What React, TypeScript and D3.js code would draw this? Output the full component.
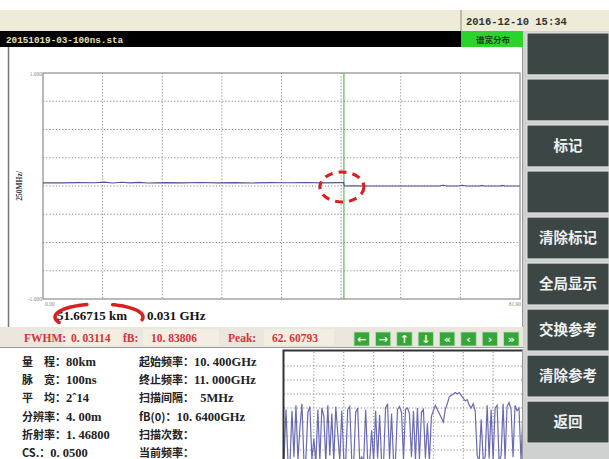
import React from "react";
import * as d3 from "d3";

// main trace: distance (km) and normalised amplitude
const traceKm = [0, 3, 6, 9, 10.5, 12, 13.5, 15, 16.5, 18, 21, 24, 27, 30, 33, 36, 39, 42, 45, 48, 51, 51.6, 51.75, 53, 56, 60, 64, 68, 68.7, 69.4, 71.3, 72, 72.7, 75, 75.4, 75.8, 78.5, 78.9, 79.3, 81.9];
const traceAmp = [0.028, 0.028, 0.03, 0.029, 0.034, 0.027, 0.033, 0.028, 0.032, 0.027, 0.03, 0.028, 0.031, 0.028, 0.03, 0.027, 0.03, 0.029, 0.031, 0.028, 0.03, 0.03, 0.0, 0.002, 0, 0, 0, 0, 0.006, 0, 0, 0.006, 0, 0, 0.005, 0, 0, 0.005, 0, 0];
const markerKm = 51.66715;
const markerGHz = 0.031;
const yTickLabels = ["1.000", "-1.000"];
const xTickLabels = ["0.00", "81.90"];

// sweep spectrum (small chart), 10.400 -> 11.000 GHz, 5 MHz step
const sweepStart = 10.4;
const sweepStop = 11.0;
const sweepStep = 0.005;
const spectrum = [
  0.3, 3.9, 0.2, 0.1, 3.8, 0.5, 4.2, 0.3, 2.6, 4.3, 0.2, 0.4, 3.7, 4.1, 0.3, 1.8, 0.1, 3.9, 0.2, 4.0,
  3.4, 0.1, 4.2, 0.6, 3.6, 0.2, 4.1, 2.2, 0.2, 3.8, 0.4, 0.2, 3.9, 4.1, 0.3, 0.1, 3.7, 4.0, 0.2, 0.5,
  0.2, 3.9, 0.3, 0.1, 2.4, 0.2, 3.8, 0.4, 3.5, 0.2, 0.1, 4.0, 4.3, 0.3, 3.6, 0.2, 0.4, 3.9, 4.1, 3.7,
  0.3, 3.9, 4.0, 3.6, 0.5, 3.8, 0.2, 4.0, 0.3, 3.7, 3.9, 0.4, 2.9, 0.2, 3.4, 3.8, 4.2, 3.9, 3.6, 3.3,
  3.0, 3.9, 4.3, 4.8, 4.9, 5.0, 5.1, 5.0, 5.1, 4.9, 4.7, 4.5, 4.6, 4.2, 4.0, 4.3, 3.8, 0.6, 0.2, 3.2,
  0.3, 0.5, 4.2, 0.4, 3.9, 0.3, 4.0, 4.2, 0.2, 0.6, 4.3, 0.3, 4.1, 4.4, 3.9, 0.5, 4.2, 3.8, 4.0, 0.2, 3.9,
];

const fileName = "20151019-03-100ns.sta";
const dateText = "2016-12-10  15:34";
const modeText = "谱宽分布";
const buttonLabels = ["", "", "标记", "", "清除标记", "全局显示", "交换参考", "清除参考", "返回"];
const arrowLabels = ["←", "→", "↑", "↓", "«", "‹", "›", "»"];

const statLabels = ["FWHM:", "fB:", "Peak:"];
const statValues = ["0. 03114", "10. 83806", "62. 60793"];

const leftLabels = ["量　程：", "脉　宽：", "平　均：", "分辨率：", "折射率：", "CS.："];
const leftValues = ["80km", "100ns", "2ˆ14", "4. 00m", "1. 46800", "0. 0500"];
const rightLabels = ["起始频率：", "终止频率：", "扫描间隔：", "fB(0)：", "扫描次数：", "当前频率："];
const rightValues = ["10. 400GHz", "11. 000GHz", "  5MHz", "10. 6400GHz", "", ""];

const SERIF = "'Liberation Serif', 'Noto Sans CJK SC', serif";
const CJK = "'Noto Sans CJK SC', sans-serif";
const MONO = "'Liberation Mono', monospace";

const ellArc = (cx: number, cy: number, rx: number, ry: number, a0: number, a1: number) =>
  d3.line()(
    d3.range(a0, a1 + 0.1, 3).map((a) => [
      cx + rx * Math.cos((a * Math.PI) / 180),
      cy + ry * Math.sin((a * Math.PI) / 180),
    ] as [number, number])
  ) as string;

export default function App() {
  const W = 609;
  const H = 459;

  const xMain = d3.scaleLinear().domain([0, 81.9]).range([43, 520]);
  const yMain = d3.scaleLinear().domain([-1, 1]).range([299, 73]);
  const mainLine = d3
    .line<number>()
    .x((_, i) => xMain(traceKm[i]))
    .y((d) => yMain(d));
  const [d0, d1] = xMain.domain();
  const gridX = d3.range(1, 8).map((i) => d0 + (i * (d1 - d0)) / 8);
  const gridY = d3.range(1, 8).map((i) => -1 + i * 0.25);

  const xSpec = d3.scaleLinear().domain([sweepStart, sweepStop]).range([284, 523]);
  const ySpec = d3.scaleLinear().domain([0, 8]).range([464, 352]);
  const specLine = d3
    .line<number>()
    .x((_, i) => xSpec(sweepStart + i * sweepStep))
    .y((d) => ySpec(d));
  const specGridX = d3.range(1, 8).map((i) => sweepStart + (i * (sweepStop - sweepStart)) / 8);
  const specGridY = d3.range(1, 8);

  const btnY = d3.scaleBand<number>().domain(d3.range(buttonLabels.length)).range([33, 443]).paddingInner(0.09);
  const arrowX = d3.scaleBand<number>().domain(d3.range(arrowLabels.length)).range([354, 519]).paddingInner(0.28);

  const mx = xMain(markerKm);
  const statX = [24, 123, 228];
  const boxX = [63, 143, 264];
  const boxW = [58, 76, 70];
  const rowY = d3.range(6).map((i) => 366 + i * 18.2);

  return (
    <div style={{ position: "absolute", left: 0, top: 0 }}>
      <svg width={W} height={H} style={{ display: "block", background: "#fff" }}>
        {/* header */}
        <rect x={0} y={10} width={W} height={21} fill="#efebd9" />
        <line x1={461} x2={461} y1={10} y2={31} stroke="#8a8a80" />
        <text x={466} y={25} fontFamily={MONO} fontWeight="bold" fontSize={10.5} fill="#333">
          {dateText}
        </text>
        <rect x={0} y={31} width={461} height={16} fill="#000" />
        <text x={6} y={43} fontFamily={MONO} fontWeight="bold" fontSize={9.3} fill="#ece3b4">
          {fileName}
        </text>
        <rect x={461} y={31} width={64} height={16} fill="#2bd42b" />
        <text x={493} y={42.5} textAnchor="middle" fontFamily={CJK} fontWeight="bold" fontSize={8.5} fill="#1d3d1d">
          {modeText}
        </text>

        {/* right button column */}
        <rect x={523} y={31} width={W - 523} height={H - 31} fill="#cfd1d0" />
        {buttonLabels.map((b, i) => (
          <g key={i}>
            <rect x={527} y={btnY(i)} width={82} height={btnY.bandwidth()} fill="#3c4645" stroke="#e4e6e5" strokeWidth={1} />
            {b && (
              <text
                x={568}
                y={(btnY(i) as number) + btnY.bandwidth() / 2 + 5}
                textAnchor="middle"
                fontFamily={CJK}
                fontWeight="bold"
                fontSize={14.5}
                fill="#eef0ef"
              >
                {b}
              </text>
            )}
          </g>
        ))}

        {/* main panel */}
        <rect x={0} y={47} width={523} height={280} fill="#fff" />
        <line x1={8.5} x2={8.5} y1={47} y2={327} stroke="#777" strokeWidth={1.5} />
        <line x1={522.5} x2={522.5} y1={47} y2={327} stroke="#999" />
        {gridX.map((g) => (
          <line key={"gx" + g} x1={xMain(g)} x2={xMain(g)} y1={73} y2={299} stroke="#8a8a8a" strokeDasharray="1.2 2" />
        ))}
        {gridY.map((g) => (
          <line key={"gy" + g} x1={43} x2={520} y1={yMain(g)} y2={yMain(g)} stroke="#8a8a8a" strokeDasharray="1.2 2" />
        ))}
        <rect x={43} y={73} width={477} height={226} fill="none" stroke="#8c8c8c" strokeWidth={1.2} />
        <text x={42} y={76} textAnchor="end" fontFamily={SERIF} fontSize={5.5} fill="#888">
          {yTickLabels[0]}
        </text>
        <text x={42} y={301} textAnchor="end" fontFamily={SERIF} fontSize={5.5} fill="#888">
          {yTickLabels[1]}
        </text>
        <text x={45} y={306} fontFamily={SERIF} fontSize={5.5} fill="#888">
          {xTickLabels[0]}
        </text>
        <text x={521} y={306} textAnchor="end" fontFamily={SERIF} fontSize={5.5} fill="#888">
          {xTickLabels[1]}
        </text>
        <text
          transform="translate(22,186) rotate(-90)"
          textAnchor="middle"
          fontFamily={SERIF}
          fontWeight="bold"
          fontSize={7.5}
          fill="#333"
        >
          250MHz/
        </text>
        <line x1={mx} x2={mx} y1={73} y2={299} stroke="#5cb85c" strokeWidth={1.2} />
        <path d={mainLine(traceAmp) as string} fill="none" stroke="#54548f" strokeWidth={1.1} />
        <ellipse cx={mx - 2} cy={yMain(0) + 1} rx={22} ry={15} fill="none" stroke="#d8201e" strokeWidth={3.2} strokeDasharray="8 6" />

        <text x={57} y={320} fontFamily={SERIF} fontWeight="bold" fontSize={13} fill="#111">
          {markerKm.toFixed(5)} km
        </text>
        <text x={147} y={320} fontFamily={SERIF} fontWeight="bold" fontSize={13} fill="#111">
          {markerGHz.toFixed(3)} GHz
        </text>
        <g fill="none" stroke="#d8201e" strokeWidth={3.5} strokeLinecap="round">
          <path d={ellArc(99, 317, 44, 13, 155, 255)} />
          <path d={ellArc(99, 317, 44, 13, 288, 372)} />
          <path d={ellArc(99, 317, 44, 13, 72, 108)} />
        </g>

        {/* stats bar */}
        <rect x={0} y={327} width={523} height={20} fill="#ebe7df" />
        <line x1={0} x2={523} y1={347.5} y2={347.5} stroke="#9a9a9a" />
        {statLabels.map((s, i) => (
          <g key={s}>
            <rect x={boxX[i]} y={329} width={boxW[i]} height={16} fill="#f3eee1" />
            <text x={statX[i]} y={342} fontFamily={SERIF} fontWeight="bold" fontSize={11.5} fill="#d6323a">
              {s}
            </text>
            <text x={boxX[i] + 8} y={342} fontFamily={SERIF} fontWeight="bold" fontSize={11.5} fill="#d6323a">
              {statValues[i]}
            </text>
          </g>
        ))}
        {arrowLabels.map((a, i) => (
          <g key={"a" + i}>
            <rect x={arrowX(i)} y={332} width={arrowX.bandwidth()} height={14} fill="#37a63a" stroke="#bfe0bf" strokeWidth={0.8} />
            <text
              x={(arrowX(i) as number) + arrowX.bandwidth() / 2}
              y={343}
              textAnchor="middle"
              fontFamily="'DejaVu Sans', sans-serif"
              fontWeight="bold"
              fontSize={11}
              fill="#f4fff4"
            >
              {a}
            </text>
          </g>
        ))}

        {/* info panel */}
        {leftLabels.map((l, i) => (
          <text key={"l" + i} x={22} y={rowY[i]} fontFamily={CJK} fontWeight="bold" fontSize={11} fill="#222">
            {l}
            <tspan fontFamily={SERIF} fontSize={12.5}>
              {leftValues[i]}
            </tspan>
          </text>
        ))}
        {rightLabels.map((l, i) => (
          <text key={"r" + i} x={139} y={rowY[i]} fontFamily={CJK} fontWeight="bold" fontSize={11} fill="#222" style={{ whiteSpace: "pre" }}>
            {l}
            <tspan fontFamily={SERIF} fontSize={12.5}>
              {rightValues[i]}
            </tspan>
          </text>
        ))}

        {/* spectrum panel */}
        <defs>
          <clipPath id="specClip">
            <rect x={284} y={352} width={239} height={H - 352} />
          </clipPath>
        </defs>
        <rect x={283} y={350} width={240} height={H - 350} fill="#fff" />
        {specGridX.map((g) => (
          <line key={"sx" + g} x1={xSpec(g)} x2={xSpec(g)} y1={352} y2={H} stroke="#8a8a8a" strokeDasharray="1.2 2" />
        ))}
        {specGridY.map((g) => (
          <line key={"sy" + g} x1={284} x2={523} y1={ySpec(g)} y2={ySpec(g)} stroke="#8a8a8a" strokeDasharray="1.2 2" />
        ))}
        <path d={specLine(spectrum) as string} fill="none" stroke="#6a6ab4" strokeWidth={1.2} clipPath="url(#specClip)" />
        <path d={`M283.5,${H}V350.5H523`} fill="none" stroke="#333" strokeWidth={2} />
        <line x1={522.5} x2={522.5} y1={350} y2={H} stroke="#999" />
      </svg>
    </div>
  );
}
